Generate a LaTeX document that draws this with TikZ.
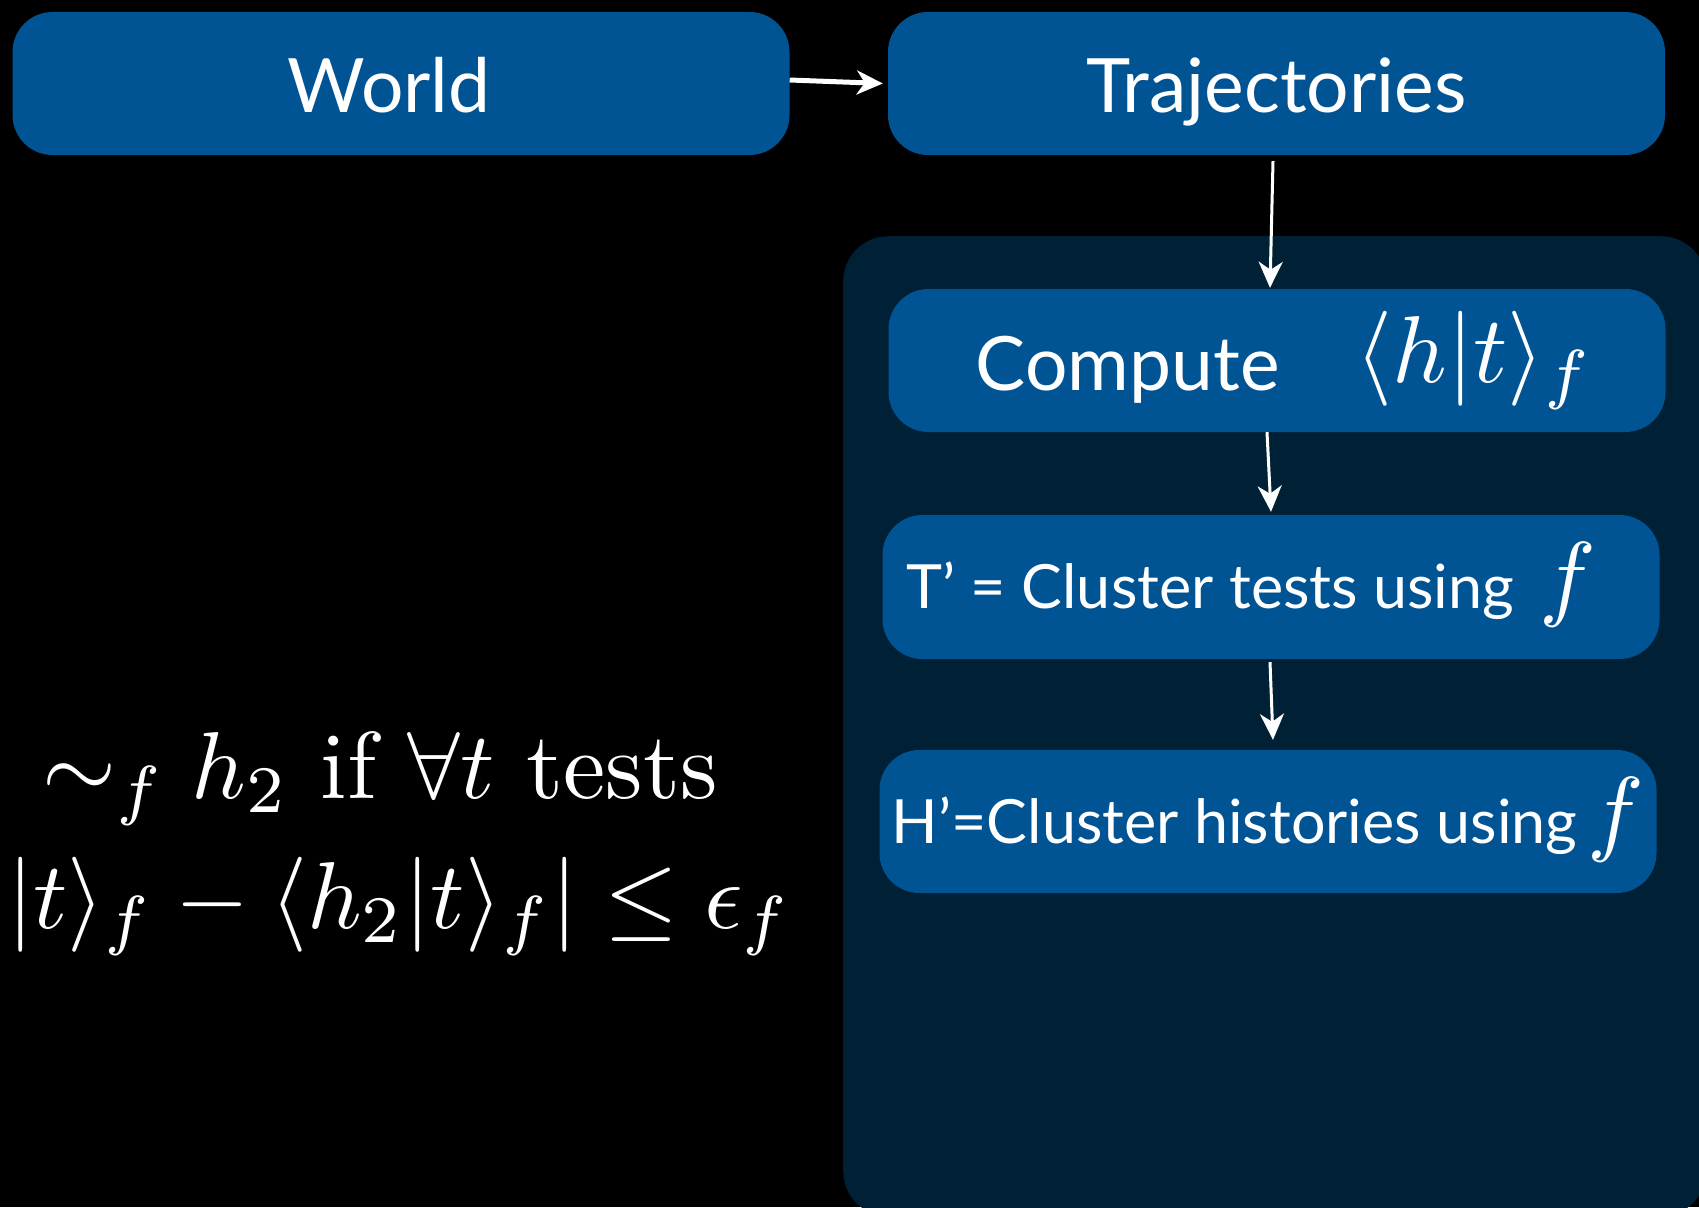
\RequirePackage{fix-cm}
\documentclass[tikz,border=0pt]{standalone}
\usepackage{amsmath}
\usepackage{graphicx}
\usepackage[no-math]{fontspec}
\newfontfamily\gill{Lato}
\usetikzlibrary{arrows.meta,calc}
\definecolor{boxblue}{RGB}{0,84,148}
\definecolor{panelblue}{RGB}{0,32,54}
\newcommand{\bigmath}[1]{\scalebox{9.5}{\fontsize{10}{12}\selectfont$#1$}}
\begin{document}
\begin{tikzpicture}[x=1pt,y=-1pt,
  box/.style={fill=boxblue, rounded corners=40pt, minimum width=777pt, minimum height=143pt,
    inner sep=0pt, text=white, text depth=0pt},
  bigtxt/.style={font=\gill\fontsize{75}{80}\selectfont, text height=57pt},
  smalltxt/.style={font=\gill\fontsize{61}{66}\selectfont, text height=42pt},
  mathtxt/.style={text=white, inner sep=0pt, anchor=base west, font=\fontsize{10}{12}\selectfont},
  arr/.style={draw=white, line width=3pt, -{Stealth[length=26pt,width=24pt,inset=8pt]}}]
\path[use as bounding box, fill=black] (0,0) rectangle (1699,1207);
\begin{scope}
  \clip (0,0) rectangle (1699,1207);
  \node[fill=panelblue, rounded corners=45pt, minimum width=863pt, minimum height=980pt,
    anchor=north west, inner sep=0pt] (panel) at (843,236) {};
\end{scope}
\node[box, bigtxt] (world) at (401,83.5) {World\hspace*{24pt}};
\node[box, bigtxt] (traj) at (1276.5,83.5) {Trajectories};
\node[box, bigtxt, text height=59pt] (compute) at (1277,360.5)
  {\hspace*{16pt}Compute\hspace{76pt}\raisebox{8pt}{\bigmath{\langle h|t\rangle_f}}};
\node[box, smalltxt, minimum height=144pt] (tbox) at (1271,587)
  {T’ = Cluster tests using\hspace{25pt}\bigmath{f}\hspace*{40pt}};
\node[box, smalltxt, text height=43pt] (hbox) at (1268,821.5)
  {H’=Cluster histories using\hspace{10pt}\bigmath{f}};
\node[mathtxt] (eqa) at (42,798) {\bigmath{\sim_f h_2 \text{ if } \forall t \text{ tests}}};
\node[mathtxt] (eqb) at (7,928) {\bigmath{|t\rangle_f - \langle h_2|t\rangle_f| \le \epsilon_f}};
\draw[arr, line width=5pt] ([yshift=3.5pt]world.east) -- ([xshift=-5pt]traj.west);
\draw[arr] ([xshift=-3.5pt,yshift=-6pt]traj.south) -- ([xshift=-7pt,yshift=1pt]compute.north);
\draw[arr] ([xshift=-10pt]compute.south) -- ([yshift=3pt]tbox.north);
\draw[arr] ([xshift=-1pt,yshift=-3pt]tbox.south) -- ([xshift=5pt,yshift=10pt]hbox.north);
\end{tikzpicture}
\end{document}
